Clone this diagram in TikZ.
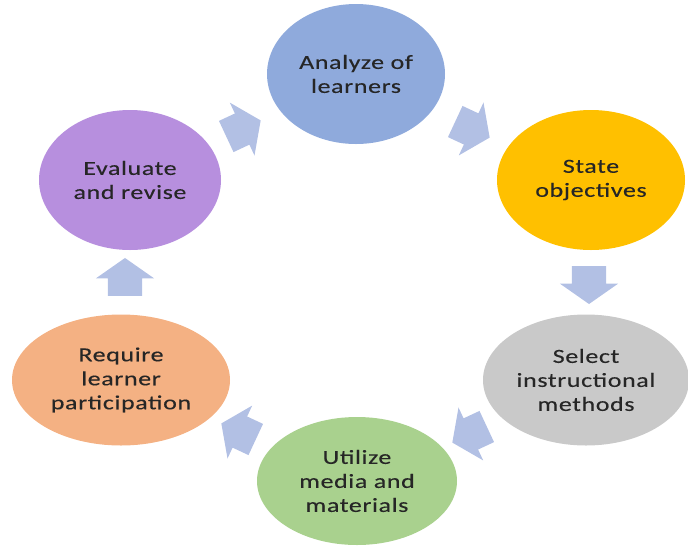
\documentclass[tikz,border=0pt]{standalone}
\usepackage{fontspec}
\setmainfont{Carlito}[FakeStretch=1.3,LetterSpace=3,FakeBold=0.3]
\usetikzlibrary{shapes.geometric,shapes.arrows}
\definecolor{cycblue}{RGB}{143,170,220}
\definecolor{cycgold}{RGB}{255,192,0}
\definecolor{cycgray}{RGB}{201,201,201}
\definecolor{cycgreen}{RGB}{169,209,142}
\definecolor{cycorange}{RGB}{244,177,131}
\definecolor{cycpurple}{RGB}{183,143,222}
\definecolor{cycarrow}{RGB}{178,192,228}
\begin{document}
\begin{tikzpicture}[x=1pt,y=-1pt,
    step node/.style={ellipse,inner sep=0pt,align=center,text=black!85,
      font=\fontsize{20}{24}\selectfont},
    cyc arrow/.style={single arrow,fill=cycarrow,inner xsep=0pt,inner ysep=17pt,
      minimum height=38pt,single arrow head extend=12pt,single arrow tip angle=110}]

    \useasboundingbox (0,0) rectangle (688,547);

    % analyze of learners
    \node[step node,fill=cycblue,minimum width=178pt,minimum height=140pt] (analyze) at (356,74) {Analyze of\\learners};

    % state objectives
    \node[step node,fill=cycgold,minimum width=188pt,minimum height=140pt] (state) at (591,180) {State\\objectives};

    % select instructional methods
    \node[step node,fill=cycgray,minimum width=206pt,minimum height=131pt] (select) at (586,380) {Select\\instructional\\methods};

    % utilize media and materials
    \node[step node,fill=cycgreen,minimum width=200pt,minimum height=128pt] (utilize) at (357,481) {Utilize\\media and\\materials};

    % require learner participation
    \node[step node,fill=cycorange,minimum width=218pt,minimum height=131pt] (require) at (121,380) {Require\\learner\\participation};

    % evaluate and revise
    \node[step node,fill=cycpurple,minimum width=182pt,minimum height=140pt] (evaluate) at (130,180) {Evaluate\\and revise};

    %%%%%%%%%%%%%%%%%%%%%%%%%%%%%%%%%%%%%%%%%%%%%%%%%%%%%%

    % cycle arrows
    \node[cyc arrow,rotate=25] (a1) at (238,131) {};
    \node[cyc arrow,rotate=-25] (a2) at (467,127) {};
    \node[cyc arrow,rotate=-90] (a3) at (589,279) {};
    \node[cyc arrow,rotate=205] (a4) at (475,432) {};
    \node[cyc arrow,rotate=155] (a5) at (244,434) {};
    \node[cyc arrow,rotate=90] (a6) at (125,283) {};

\end{tikzpicture}
\end{document}
